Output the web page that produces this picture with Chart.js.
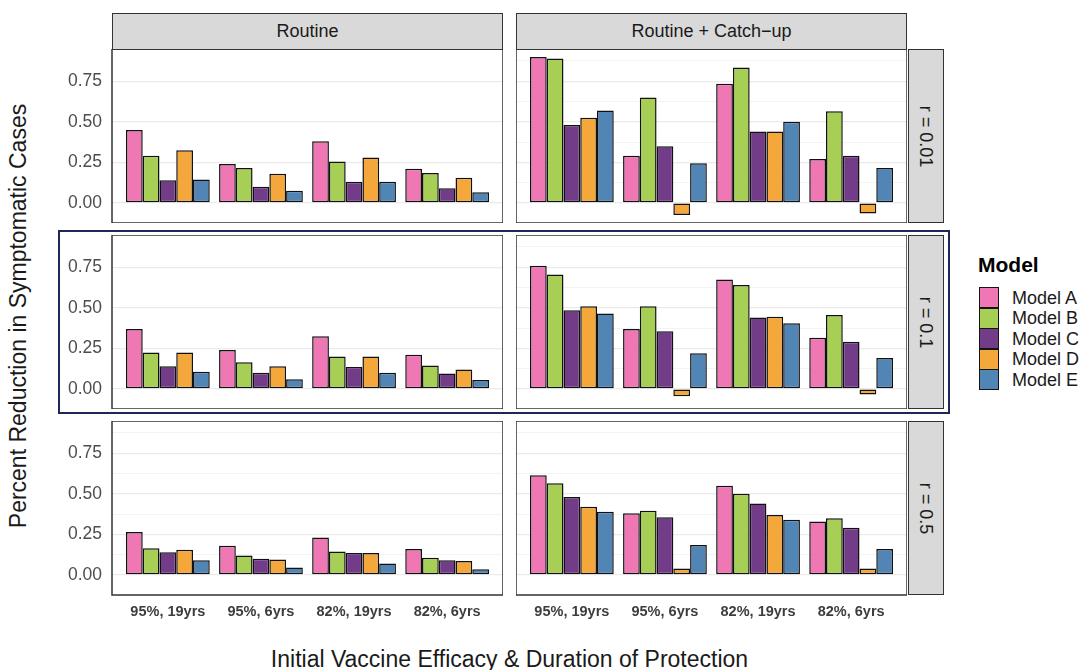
<!DOCTYPE html>
<html>
<head>
<meta charset="utf-8">
<script src="https://cdn.jsdelivr.net/npm/chart.js@4.4.1/dist/chart.umd.min.js"></script>
<style>
  html, body { margin: 0; padding: 0; background: #fff; }
  #wrap { position: relative; width: 1080px; height: 670px; overflow: hidden;
          font-family: "Liberation Sans", Arial, Helvetica, sans-serif; }
  #wrap canvas { position: absolute; }
  .strip { position: absolute; box-sizing: border-box; background: #d9d9d9;
           border: 1.5px solid #333; color: #1a1a1a; font-size: 18px;
           display: flex; align-items: center; justify-content: center; white-space: nowrap; }
  .strip.side span { display: inline-block; transform: rotate(90deg); }
  .focus { position: absolute; box-sizing: border-box; border: 2.5px solid #1d2859; pointer-events: none; }
  .title { position: absolute; color: #1a1a1a; font-size: 23px; white-space: nowrap; line-height: 26px; }
  .legend-title { position: absolute; font-weight: bold; font-size: 21px; color: #000; white-space: nowrap; }
  .key { position: absolute; box-sizing: border-box; border: 1.5px solid #141414; }
  .key-label { position: absolute; font-size: 18px; color: #1a1a1a; white-space: nowrap; line-height: 20px; }
</style>
</head>
<body>
<div id="wrap"></div>
<script>
// Scenario labels along the x axis
const categories = ['95%, 19yrs', '95%, 6yrs', '82%, 19yrs', '82%, 6yrs'];
const models = ['Model A', 'Model B', 'Model C', 'Model D', 'Model E'];
const modelColors = ['#EE77B4', '#A7CF55', '#733C88', '#F4A83B', '#5185B6'];
const strategies = ['Routine', 'Routine + Catch\u2212up'];
const rLabels = ['r = 0.01', 'r = 0.1', 'r = 0.5'];

// Y axis: labelled ticks every 0.25, minor grid every 0.125
const yTicks = [0, 0.125, 0.25, 0.375, 0.5, 0.625, 0.75, 0.875];
const yMin = -0.124;
const yMax = 0.949;

// Percent reduction, one row per model (A..E), one column per scenario
const routineR001 = [
  [0.45, 0.24, 0.38, 0.21],
  [0.29, 0.215, 0.255, 0.185],
  [0.14, 0.10, 0.13, 0.09],
  [0.325, 0.18, 0.28, 0.155],
  [0.145, 0.075, 0.13, 0.065]
];
const catchupR001 = [
  [0.90, 0.29, 0.735, 0.27],
  [0.89, 0.65, 0.835, 0.565],
  [0.48, 0.35, 0.44, 0.29],
  [0.525, -0.075, 0.44, -0.065],
  [0.57, 0.245, 0.50, 0.215]
];
const routineR01 = [
  [0.37, 0.24, 0.325, 0.21],
  [0.225, 0.165, 0.20, 0.145],
  [0.14, 0.10, 0.135, 0.095],
  [0.225, 0.14, 0.20, 0.12],
  [0.105, 0.06, 0.10, 0.055]
];
const catchupR01 = [
  [0.76, 0.37, 0.675, 0.315],
  [0.705, 0.51, 0.64, 0.455],
  [0.485, 0.355, 0.44, 0.29],
  [0.51, -0.045, 0.445, -0.035],
  [0.465, 0.22, 0.405, 0.19]
];
const routineR05 = [
  [0.265, 0.18, 0.23, 0.16],
  [0.165, 0.12, 0.145, 0.105],
  [0.14, 0.10, 0.135, 0.09],
  [0.155, 0.095, 0.135, 0.085],
  [0.09, 0.045, 0.07, 0.035]
];
const catchupR05 = [
  [0.615, 0.38, 0.55, 0.33],
  [0.565, 0.395, 0.50, 0.35],
  [0.48, 0.355, 0.44, 0.29],
  [0.42, 0.04, 0.37, 0.04],
  [0.39, 0.185, 0.34, 0.16]
];

const panelData = [
  [routineR001, catchupR001],
  [routineR01, catchupR01],
  [routineR05, catchupR05]
];

// ---- layout ----
const colX = [112, 516];
const rowY = [49, 235, 421];
const panelW = 391;
const panelH = 174;
const yAxisW = 62;
const xAxisH = 32;
const fontFamily = '"Liberation Sans", Arial, Helvetica, sans-serif';

const wrap = document.getElementById('wrap');

function el(cls, style, html) {
  const d = document.createElement('div');
  d.className = cls;
  Object.assign(d.style, style);
  if (html !== undefined) d.innerHTML = html;
  wrap.appendChild(d);
  return d;
}

// Panel outline drawn on top of the plot area
const panelFrame = {
  id: 'panelFrame',
  afterDraw(chart) {
    const a = chart.chartArea;
    const ctx = chart.ctx;
    ctx.save();
    ctx.strokeStyle = '#333';
    ctx.lineWidth = 1.5;
    ctx.strokeRect(a.left, a.top, a.right - a.left, a.bottom - a.top);
    ctx.restore();
  }
};

// Fixed axis sizes so every panel's plot area lines up
function fixBox(size, isX) {
  return s => {
    if (isX) s.height = size; else s.width = size;
    s.paddingTop = 0; s.paddingBottom = 0; s.paddingLeft = 0; s.paddingRight = 0;
  };
}

function makePanel(row, col) {
  const showY = col === 0;
  const showX = row === 2;
  const left = colX[col] - (showY ? yAxisW : 0);
  const width = panelW + (showY ? yAxisW : 0);
  const height = panelH + (showX ? xAxisH : 0);
  const canvas = document.createElement('canvas');
  canvas.width = width;
  canvas.height = height;
  canvas.style.left = left + 'px';
  canvas.style.top = rowY[row] + 'px';
  canvas.style.width = width + 'px';
  canvas.style.height = height + 'px';
  wrap.appendChild(canvas);

  const values = panelData[row][col];
  new Chart(canvas, {
    type: 'bar',
    data: {
      datasets: models.map((m, k) => ({
        label: m,
        data: values[k].map((v, i) => ({ x: i + 1, y: v })),
        backgroundColor: modelColors[k],
        borderColor: '#111',
        borderWidth: 1.5,
        borderSkipped: false,
        categoryPercentage: 0.9,
        barPercentage: 1.0
      }))
    },
    options: {
      responsive: false,
      animation: false,
      devicePixelRatio: 1,
      layout: { padding: 0 },
      plugins: { legend: { display: false }, tooltip: { enabled: false } },
      scales: {
        x: {
          type: 'linear',
          min: 0.4,
          max: 4.6,
          offset: false,
          grid: { display: false, drawTicks: false },
          border: { display: false },
          afterBuildTicks: s => { s.ticks = categories.map((c, i) => ({ value: i + 1 })); },
          afterFit: fixBox(showX ? xAxisH : 0, true),
          ticks: {
            display: showX,
            autoSkip: false,
            maxRotation: 0,
            minRotation: 0,
            padding: 8,
            color: '#3d3d3d',
            font: { family: fontFamily, size: 14.5, weight: 'bold' },
            callback: v => categories[Math.round(v) - 1]
          }
        },
        y: {
          min: yMin,
          max: yMax,
          grid: {
            color: '#ebebeb',
            drawTicks: false,
            lineWidth: c => {
              const v = c.tick ? c.tick.value : 0;
              return Math.abs(v * 4 - Math.round(v * 4)) < 1e-6 ? 1.2 : 0.6;
            }
          },
          border: { display: false },
          afterBuildTicks: s => { s.ticks = yTicks.map(v => ({ value: v })); },
          afterFit: fixBox(showY ? yAxisW : 0, false),
          ticks: {
            display: showY,
            padding: 10,
            color: '#4d4d4d',
            font: { family: fontFamily, size: 17.5 },
            callback: v => (Math.abs(v * 4 - Math.round(v * 4)) < 1e-6 ? v.toFixed(2) : '')
          }
        }
      }
    },
    plugins: [panelFrame]
  });
}

for (let r = 0; r < 3; r++) {
  for (let c = 0; c < 2; c++) makePanel(r, c);
}

// Facet strips
strategies.forEach((s, c) => {
  el('strip', { left: colX[c] + 'px', top: '13px', width: panelW + 'px', height: '37px' }, s);
});
rLabels.forEach((s, r) => {
  el('strip side', { left: '908px', top: rowY[r] + 'px', width: '36px', height: panelH + 'px' },
     '<span>' + s + '</span>');
});

// Highlighted middle row
el('focus', { left: '58px', top: '230px', width: '892px', height: '184px' });

// Axis titles
el('title', { left: '509.5px', top: '646px', transform: 'translateX(-50%)' },
   'Initial Vaccine Efficacy &amp; Duration of Protection');
el('title', { left: '18px', top: '316px', transform: 'translate(-50%, -50%) rotate(-90deg)' },
   'Percent Reduction in Symptomatic Cases');

// Legend
el('legend-title', { left: '978px', top: '253px' }, 'Model');
models.forEach((m, k) => {
  const top = 287 + k * 20.6;
  el('key', { left: '979px', top: top + 'px', width: '19.5px', height: '21px', background: modelColors[k] });
  el('key-label', { left: '1012px', top: (top + 0.5) + 'px' }, m);
});
</script>
</body>
</html>
